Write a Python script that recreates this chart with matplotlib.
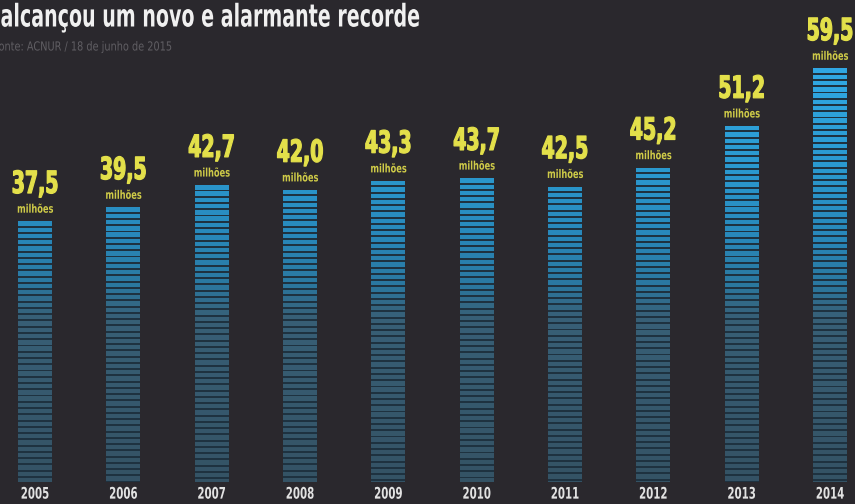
import numpy as np
import matplotlib.pyplot as plt
from matplotlib.colors import LinearSegmentedColormap
from matplotlib.patheffects import AbstractPathEffect
from matplotlib.transforms import Affine2D

years = ["2005", "2006", "2007", "2008", "2009", "2010", "2011", "2012", "2013", "2014"]
values = [37.5, 39.5, 42.7, 42.0, 43.3, 43.7, 42.5, 45.2, 51.2, 59.5]
labels = ["37,5", "39,5", "42,7", "42,0", "43,3", "43,7", "42,5", "45,2", "51,2", "59,5"]
unit = "milhões"
title = "alcançou um novo e alarmante recorde"
source = "Fonte: ACNUR / 18 de junho de 2015"

BG = "#2a282d"


class Squeeze(AbstractPathEffect):
    # no condensed font installed, so squash the glyph paths sideways
    def __init__(self, sx, anchor="center", lw=0.0):
        super().__init__()
        self.sx = sx
        self.anchor = anchor
        self.lw = lw

    def draw_path(self, renderer, gc, tpath, affine, rgbFace=None):
        ext = tpath.get_extents(affine)
        x0 = ext.x0 if self.anchor == "left" else (ext.x0 + ext.x1) / 2
        t = affine + Affine2D().translate(-x0, 0).scale(self.sx, 1).translate(x0, 0)
        gc0 = renderer.new_gc()
        gc0.copy_properties(gc)
        if self.lw > 0 and rgbFace is not None:
            gc0.set_linewidth(self.lw)
            gc0.set_foreground(rgbFace)
        renderer.draw_path(gc0, tpath, t, rgbFace)
        gc0.restore()


# colour follows the height, not the bar
cmap = LinearSegmentedColormap.from_list("stripes", [
    (0.00, (52 / 255, 82 / 255, 100 / 255)),
    (0.40, (55 / 255, 95 / 255, 118 / 255)),
    (0.48, (42 / 255, 120 / 255, 160 / 255)),
    (0.60, (40 / 255, 136 / 255, 186 / 255)),
    (0.75, (42 / 255, 152 / 255, 206 / 255)),
    (1.00, (48 / 255, 168 / 255, 228 / 255)),
])

fig = plt.figure(figsize=(8.55, 5.04), dpi=100, facecolor=BG)
ax = fig.add_axes([0, 0, 1, 1])
ax.set_facecolor(BG)
ax.set_xlim(-0.396, 9.283)
ax.set_ylim(-3.17, 69.35)
ax.axis("off")

x = np.arange(len(values))
width = 0.385
pitch = 0.9
stripe = 0.62

for xi, v in zip(x, values):
    ax.bar(xi, v, width=width, color="#1e3240", linewidth=0)
    top = v
    while top > 0:
        h = min(stripe, top)
        ax.bar(xi, h, bottom=top - h, width=width, color=cmap(top / 60), linewidth=0)
        top -= pitch

for xi, v, lab, yr in zip(x, values, labels, years):
    ax.text(xi, v + 5.3, lab, ha="center", va="center", color="#e3e04a",
            fontsize=22, fontweight="bold", path_effects=[Squeeze(0.62, lw=0.9)])
    ax.text(xi, v + 1.75, unit, ha="center", va="center", color="#cfcb48",
            fontsize=8.5, fontweight="bold", path_effects=[Squeeze(0.7)])
    ax.text(xi, -1.75, yr, ha="center", va="center", color="#e2e2e2",
            fontsize=11.5, fontweight="bold", path_effects=[Squeeze(0.64)])

fig.text(0.0, 1 - 18 / 504, title, ha="left", va="center", color="#f0f0f0",
         fontsize=22.5, fontweight="bold", path_effects=[Squeeze(0.61, "left")])
fig.text(-7 / 855, 1 - 47 / 504, source, ha="left", va="center", color="#605e63",
         fontsize=9, path_effects=[Squeeze(0.78, "left")])

fig.savefig("out.png", dpi=100, facecolor=BG)
